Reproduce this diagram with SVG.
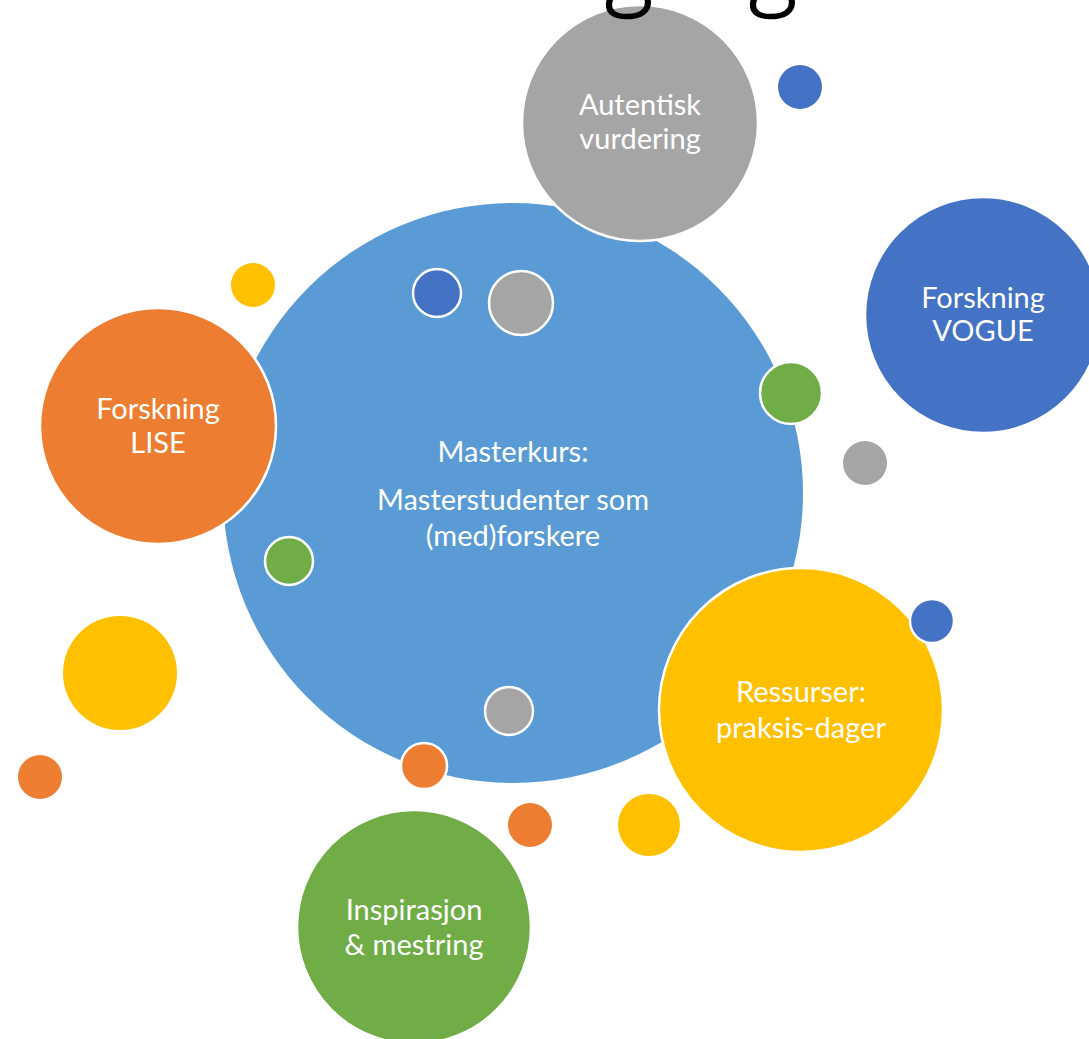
<svg xmlns="http://www.w3.org/2000/svg" width="1089" height="1039" viewBox="0 0 1089 1039">
<style>
.s{stroke:#fff;stroke-width:2.5}
.b{fill:#5B9BD5}.db{fill:#4472C4}.g{fill:#A5A5A5}.o{fill:#ED7D31}.y{fill:#FFC000}.gr{fill:#70AD47}
.t{font-family:Lato,"Open Sans",sans-serif;font-size:29px;fill:#fff;text-anchor:middle}
.title{font-family:"Open Sans",sans-serif;font-weight:300;font-size:92px;fill:#000;stroke:#000;stroke-width:1.6}
</style>
<rect width="1089" height="1039" fill="#fff"/>
<g id="main"><circle class="b" cx="513" cy="493" r="290"/>
<text class="t" x="513" y="462">Masterkurs:</text>
<text class="t" x="513" y="510">Masterstudenter som</text>
<text class="t" x="513" y="546">(med)forskere</text></g>
<g id="autentisk"><circle class="g s" cx="640" cy="123" r="118"/>
<text class="t" x="640" y="115">Autentisk</text>
<text class="t" x="640" y="149">vurdering</text></g>
<g id="title"><text class="title" x="629" y="-4" text-anchor="middle">g</text><text class="title" x="773" y="-4" text-anchor="middle">g</text></g>
<g id="vogue"><circle class="db s" cx="983" cy="315" r="118"/>
<text class="t" x="983" y="308">Forskning</text>
<text class="t" x="983" y="341">VOGUE</text></g>
<g id="lise"><circle class="o s" cx="158" cy="426" r="118"/>
<text class="t" x="158" y="419">Forskning</text>
<text class="t" x="158" y="453">LISE</text></g>
<g id="ressurser"><circle class="y s" cx="801" cy="710" r="142"/>
<text class="t" x="801" y="702">Ressurser:</text>
<text class="t" x="801" y="738">praksis-dager</text></g>
<g id="inspirasjon"><circle class="gr s" cx="414" cy="927" r="117"/>
<text class="t" x="414" y="920">Inspirasjon</text>
<text class="t" x="414" y="955">&amp; mestring</text></g>
<g id="dots">
<circle class="db" cx="800" cy="87" r="22"/>
<circle class="y" cx="253" cy="285" r="22"/>
<circle class="db s" cx="437" cy="293" r="24"/>
<circle class="g s" cx="521" cy="303" r="32"/>
<circle class="gr s" cx="791" cy="393" r="31"/>
<circle class="g" cx="865" cy="463" r="22"/>
<circle class="gr s" cx="289" cy="561" r="24"/>
<circle class="y" cx="120" cy="673" r="57"/>
<circle class="db s" cx="932" cy="621" r="22"/>
<circle class="g s" cx="509" cy="711" r="24"/>
<circle class="o s" cx="424" cy="766" r="23"/>
<circle class="o" cx="40" cy="777" r="22"/>
<circle class="o" cx="530" cy="825" r="22"/>
<circle class="y" cx="649" cy="825" r="31"/>
</g>
<g id="connectors"/>
</svg>
